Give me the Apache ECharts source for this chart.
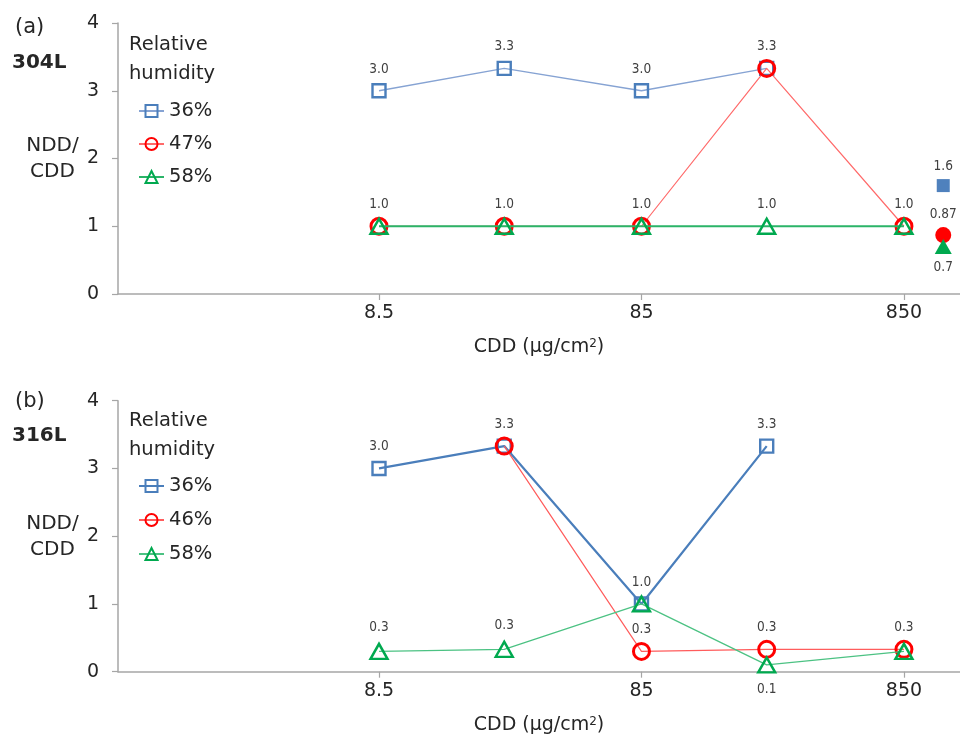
<!DOCTYPE html>
<html>
<head>
<meta charset="utf-8">
<script src="https://cdn.jsdelivr.net/npm/echarts@6/dist/echarts.min.js"></script>
<style>
  html, body { margin: 0; padding: 0; background: #ffffff; }
  #chart { width: 960px; height: 739px; }
</style>
</head>
<body>
<div id="chart"></div>
<script>
// CDD levels (μg/cm²) shared by both panels
const cdd = [8.5, 25.5, 85, 255, 850];
const cddTicks = [8.5, 85, 850];
// Separate filled markers sit just right of the 850 column
const cddSide = 1200;

// (a) 304L: NDD/CDD per relative humidity
const a36 = [3.0, 3.33, 3.0, 3.33, null];
const a47 = [1.0, 1.0, 1.0, 3.33, 1.0];
const a58 = [1.0, 1.0, 1.0, 1.0, 1.0];
const aSide36 = 1.6;
const aSide47 = 0.87;
const aSide58 = 0.7;
const aHumidity = ['36%', '47%', '58%'];

// (b) 316L: NDD/CDD per relative humidity
const b36 = [3.0, 3.33, 1.0, 3.33, null];
const b46 = [null, 3.33, 0.3, 0.33, 0.33];
const b58 = [0.3, 0.33, 1.0, 0.1, 0.3];
const bHumidity = ['36%', '46%', '58%'];

const yTicks = [0, 1, 2, 3, 4];

const FONT = '"DejaVu Sans", sans-serif';
const FONT_DATA = '"DejaVu Sans Condensed", "Liberation Sans Narrow", sans-serif';
const TEXT = '#262626';
const AXIS = '#a6a6a6';
const BLUE = '#4a7ebb';
const RED = '#ff0000';
const GREEN = '#00a94f';

const chart = echarts.init(document.getElementById('chart'));

// Panel geometry
const panels = [
  { top: 23, height: 271, prefix: '304L ' },
  { top: 400.7, height: 271, prefix: '316L ' }
];

function tickText(v) {
  const t = cddTicks.find(c => Math.abs(c - v) / c < 1e-6);
  return t === undefined ? '' : String(t);
}

const fmt1 = p => p.value[1].toFixed(1);
const fmtRaw = p => String(p.value[1]);

// Build line points; labels[i] gives the label side for point i (or nothing)
function points(values, labels) {
  const out = [];
  cdd.forEach((x, i) => {
    if (values[i] == null) return;
    const pos = labels ? labels[i] : null;
    out.push({
      value: [x, values[i]],
      label: pos ? { show: true, position: pos } : { show: false }
    });
  });
  return out;
}

const MARKERS = {
  square: { symbol: 'rect', symbolSize: 13, borderWidth: 2.4, distance: 7 },
  circle: { symbol: 'circle', symbolSize: 16, borderWidth: 3, distance: 5 },
  triangle: { symbol: 'triangle', symbolSize: [17, 15], borderWidth: 2.4, distance: 6 }
};

function lineSeries(name, panel, values, labels, marker, color, lineColor, lineWidth, z) {
  const m = MARKERS[marker];
  return {
    name: name,
    type: 'line',
    xAxisIndex: panel,
    yAxisIndex: panel,
    data: points(values, labels),
    symbol: m.symbol,
    symbolSize: m.symbolSize,
    showAllSymbol: true,
    itemStyle: { color: 'rgba(255,255,255,0)', borderColor: color, borderWidth: m.borderWidth },
    lineStyle: { color: lineColor, width: lineWidth },
    label: {
      color: '#404040', fontFamily: FONT_DATA, fontSize: 13.5,
      distance: m.distance, formatter: fmt1
    },
    emphasis: { disabled: true },
    z: z
  };
}

function sideSeries(name, value, marker, color, pos, z) {
  const m = MARKERS[marker];
  return {
    name: name,
    type: 'scatter',
    xAxisIndex: 0,
    yAxisIndex: 0,
    data: [[cddSide, value]],
    symbol: m.symbol,
    symbolSize: marker === 'circle' ? 16 : (marker === 'square' ? 13 : [17, 15]),
    itemStyle: { color: color, opacity: 1 },
    label: {
      show: true, position: pos, color: '#404040', fontFamily: FONT_DATA,
      fontSize: 13.5, distance: pos === 'bottom' ? 6.5 : 6, formatter: fmtRaw
    },
    emphasis: { disabled: true },
    z: z
  };
}

const xAxes = panels.map((p, i) => ({
  type: 'log',
  logBase: 10,
  gridIndex: i,
  min: 0.861,
  max: 1390,
  axisLine: { show: true, onZero: false, lineStyle: { color: AXIS, width: 1.5 } },
  axisTick: { show: true, customValues: cddTicks, length: 6, lineStyle: { color: AXIS, width: 1.2 } },
  axisLabel: {
    customValues: cddTicks, formatter: tickText, fontSize: 19,
    color: TEXT, fontFamily: FONT, margin: 10
  },
  splitLine: { show: false },
  minorTick: { show: false },
  minorSplitLine: { show: false },
  name: '{t|CDD (μg/cm}{s|2}{t|)}',
  nameLocation: 'middle',
  nameGap: 44,
  nameTextStyle: {
    color: TEXT,
    rich: {
      t: { fontSize: 19, fontFamily: FONT, color: TEXT },
      s: { fontSize: 12, fontFamily: FONT, color: TEXT, verticalAlign: 'top' }
    }
  }
}));

const yAxes = panels.map((p, i) => ({
  type: 'value',
  gridIndex: i,
  min: yTicks[0],
  max: yTicks[yTicks.length - 1],
  interval: 1,
  axisLine: { show: true, lineStyle: { color: AXIS, width: 1.5 } },
  axisTick: { show: true, length: 6, lineStyle: { color: AXIS, width: 1.2 } },
  axisLabel: { fontSize: 19, color: TEXT, fontFamily: FONT, margin: 19 },
  splitLine: { show: false }
}));

const series = [
  // (a) 304L
  lineSeries('304L 36%', 0, a36, ['top', 'top', 'top', 'top', null], 'square', BLUE, '#86a3d3', 1.4, 3),
  lineSeries('304L 47%', 0, a47, null, 'circle', RED, '#ff6a6a', 1.2, 4),
  lineSeries('304L 58%', 0, a58, ['top', 'top', 'top', 'top', 'top'], 'triangle', GREEN, '#2bb468', 1.8, 5),
  sideSeries('304L 36% filled', aSide36, 'square', '#4f81bd', 'top', 6),
  sideSeries('304L 47% filled', aSide47, 'circle', RED, 'top', 6),
  sideSeries('304L 58% filled', aSide58, 'triangle', GREEN, 'bottom', 7),
  // (b) 316L
  lineSeries('316L 36%', 1, b36, ['top', 'top', 'top', 'top', null], 'square', BLUE, BLUE, 2.2, 3),
  lineSeries('316L 46%', 1, b46, [null, null, 'top', 'top', 'top'], 'circle', RED, '#ff5c5c', 1.2, 4),
  lineSeries('316L 58%', 1, b58, ['top', 'top', null, 'bottom', null], 'triangle', GREEN, '#4cc283', 1.3, 5)
];
// The 0.1 label sits under its triangle
series[8].label.distance = 8.5;

function legendCfg(panel, names, top, gap) {
  const prefix = panels[panel].prefix;
  return {
    data: names.map(n => prefix + n),
    orient: 'vertical',
    left: 138,
    top: top,
    padding: 0,
    itemWidth: 25,
    itemHeight: 15,
    itemGap: gap,
    selectedMode: false,
    formatter: n => n.slice(prefix.length),
    textStyle: { fontSize: 19.5, lineHeight: 20, fontFamily: FONT, color: TEXT, padding: [0, 0, 0, 0] }
  };
}

function text(x, y, str, opts) {
  return {
    type: 'text',
    x: x,
    y: y,
    silent: true,
    style: Object.assign({
      text: str,
      fill: TEXT,
      font: '20px ' + FONT,
      textAlign: 'left',
      textVerticalAlign: 'middle'
    }, opts || {})
  };
}

const option = {
  animation: false,
  backgroundColor: '#ffffff',
  grid: panels.map(p => ({ left: 118, right: 0, top: p.top, height: p.height, containLabel: false })),
  xAxis: xAxes,
  yAxis: yAxes,
  legend: [
    legendCfg(0, aHumidity, 101, 13),
    legendCfg(1, bHumidity, 476, 14)
  ],
  graphic: [
    text(15, 28, '(a)', { font: '21px ' + FONT }),
    text(12, 62.5, '304L', { font: 'bold 20px ' + FONT }),
    text(52.5, 158.5, 'NDD/\nCDD', { textAlign: 'center', lineHeight: 26 }),
    text(129, 59.5, 'Relative\nhumidity', { font: '19.5px ' + FONT, lineHeight: 29 }),
    text(15, 402, '(b)', { font: '21px ' + FONT }),
    text(12, 436, '316L', { font: 'bold 20px ' + FONT }),
    text(52.5, 536.7, 'NDD/\nCDD', { textAlign: 'center', lineHeight: 26 }),
    text(129, 435, 'Relative\nhumidity', { font: '19.5px ' + FONT, lineHeight: 29 })
  ],
  series: series
};

chart.setOption(option);
</script>
</body>
</html>
